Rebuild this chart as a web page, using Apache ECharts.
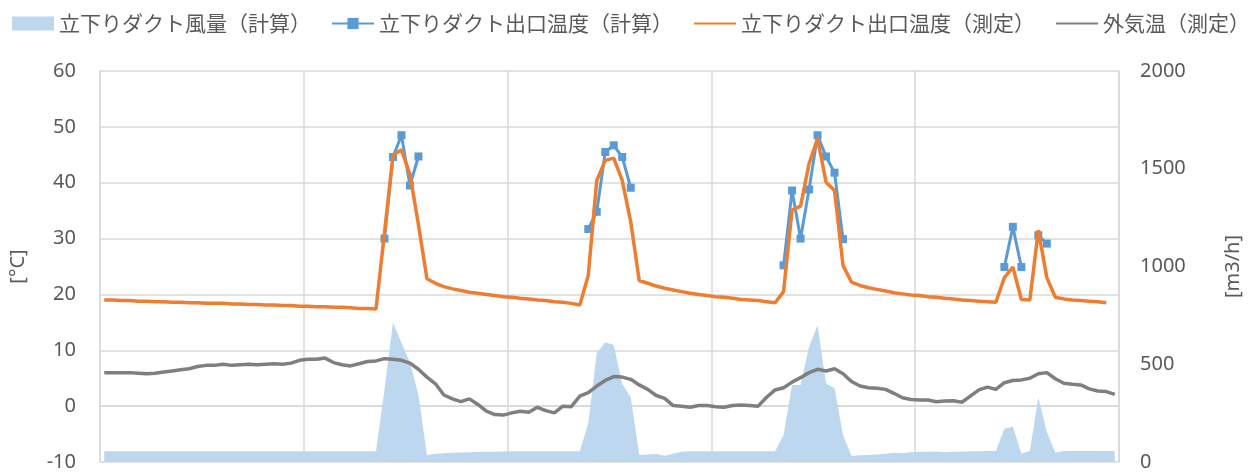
<!DOCTYPE html>
<html><head><meta charset="utf-8">
<script src="https://cdn.jsdelivr.net/npm/echarts@6/dist/echarts.min.js"></script>
<style>html,body{margin:0;padding:0;background:#fff}#c{width:1257px;height:475px}</style>
</head><body><div id="c"></div>
<script>
// hourly samples, 5 days x 24
const hours = [];
for (let d = 1; d <= 5; d++) for (let h = 0; h < 24; h++) hours.push('D' + d + ' ' + h + ':00');

const seriesNames = ['立下りダクト風量（計算）','立下りダクト出口温度（計算）','立下りダクト出口温度（測定）','外気温（測定）'];

// 立下りダクト風量（計算） [m3/h]
const airflowDay1 = [55,55,55,55,55,55,55,55,55,55,55,55,55,55,55,55,55,55,55,55,55,55,55,55];
const airflowDay2 = [55,55,55,55,55,55,55,55,55,368,712,610,510,343,36,42,45,47,48,50,51,52,53,54];
const airflowDay3 = [55,55,55,55,55,55,55,55,55,198,556,612,598,399,331,36,38,41,32,42,53,55,55,55];
const airflowDay4 = [55,55,55,55,55,55,55,55,138,394,394,590,700,402,377,138,31,34,36,39,42,47,45,50];
const airflowDay5 = [52,53,54,50,52,54,55,55,56,56,170,180,44,56,330,155,48,56,56,56,56,56,56,56];

// 立下りダクト出口温度（計算） [°C]
const calcDay1 = [null,null,null,null,null,null,null,null,null,null,null,null,null,null,null,null,null,null,null,null,null,null,null,null];
const calcDay2 = [null,null,null,null,null,null,null,null,null,30.0,44.6,48.5,39.5,44.7,null,null,null,null,null,null,null,null,null,null];
const calcDay3 = [null,null,null,null,null,null,null,null,null,31.7,34.8,45.5,46.7,44.6,39.1,null,null,null,null,null,null,null,null,null];
const calcDay4 = [null,null,null,null,null,null,null,null,25.2,38.6,30.0,38.8,48.5,44.7,41.8,29.9,null,null,null,null,null,null,null,null];
const calcDay5 = [null,null,null,null,null,null,null,null,null,null,24.9,32.1,24.9,null,30.6,29.1,null,null,null,null,null,null,null,null];

// 立下りダクト出口温度（測定） [°C]
const measDay1 = [19.0,19.0,18.9,18.9,18.8,18.8,18.7,18.7,18.6,18.6,18.5,18.5,18.4,18.4,18.4,18.3,18.3,18.2,18.2,18.1,18.1,18.0,18.0,17.9];
const measDay2 = [17.9,17.8,17.8,17.7,17.7,17.6,17.5,17.5,17.4,31.0,44.9,45.9,41.5,32.5,22.8,22.0,21.4,21.0,20.7,20.4,20.2,20.0,19.8,19.6];
const measDay3 = [19.5,19.3,19.2,19.0,18.9,18.7,18.6,18.4,18.1,23.4,40.4,44.0,44.4,40.4,33.0,22.5,22.0,21.5,21.1,20.8,20.5,20.2,20.0,19.8];
const measDay4 = [19.6,19.5,19.3,19.1,19.0,18.9,18.7,18.5,20.5,35.1,35.8,43.4,47.9,40.1,38.6,25.2,22.2,21.6,21.2,20.9,20.6,20.3,20.1,19.9];
const measDay5 = [19.8,19.6,19.5,19.3,19.2,19.0,18.9,18.8,18.7,18.6,23.0,24.9,19.1,19.0,31.5,23.0,19.5,19.2,19.0,18.9,18.8,18.7,18.5,null];

// 外気温（測定） [°C]
const outDay1 = [6.0,6.0,6.0,6.0,5.9,5.8,5.9,6.1,6.3,6.5,6.7,7.1,7.3,7.3,7.5,7.3,7.4,7.5,7.4,7.5,7.6,7.5,7.7,8.2];
const outDay2 = [8.4,8.4,8.6,7.8,7.4,7.2,7.6,8.0,8.1,8.5,8.4,8.2,7.7,6.6,5.2,4.0,2.0,1.3,0.8,1.3,0.3,-0.9,-1.5,-1.6];
const outDay3 = [-1.2,-0.9,-1.1,-0.2,-0.8,-1.2,0.0,-0.1,1.8,2.4,3.6,4.6,5.3,5.2,4.8,3.8,3.0,1.9,1.4,0.1,0.0,-0.2,0.1,0.1];
const outDay4 = [-0.1,-0.2,0.1,0.2,0.1,0.0,1.6,2.9,3.3,4.3,5.1,6.0,6.6,6.3,6.7,5.8,4.4,3.6,3.3,3.2,3.0,2.3,1.5,1.2];
const outDay5 = [1.1,1.1,0.8,0.9,0.95,0.7,1.8,2.9,3.4,3.0,4.2,4.6,4.7,5.0,5.8,6.0,4.9,4.1,3.9,3.8,3.1,2.7,2.6,2.1];

const tempTicks = {min:-10, max:60, interval:10};
const flowTicks = {min:0, max:2000, interval:500};

const airflow = [].concat(airflowDay1, airflowDay2, airflowDay3, airflowDay4, airflowDay5);
const calc = [].concat(calcDay1, calcDay2, calcDay3, calcDay4, calcDay5);
const meas = [].concat(measDay1, measDay2, measDay3, measDay4, measDay5);
const outside = [].concat(outDay1, outDay2, outDay3, outDay4, outDay5);

const txt = '#595959';
const gridC = '#d9d9d9';
const chart = echarts.init(document.getElementById('c'), null, {renderer:'canvas'});
chart.setOption({
  animation: false,
  backgroundColor: '#fff',
  textStyle: {fontFamily: '"Noto Sans CJK JP", "Noto Sans", sans-serif'},
  legend: {
    left: 12, top: 13, width: 1245, padding: 0, itemWidth: 42, itemHeight: 14, itemGap: 20,
    textStyle: {fontSize: 21, color: txt, fontFamily: '"Noto Sans CJK JP", sans-serif'},
    data: [
      {name: seriesNames[0], icon: 'rect'},
      {name: seriesNames[1]},
      {name: seriesNames[2], itemStyle: {opacity: 0}},
      {name: seriesNames[3], itemStyle: {opacity: 0}}
    ]
  },
  grid: {left: 100, right: 138, top: 71, bottom: 13},
  xAxis: {
    type: 'category', data: hours, boundaryGap: true,
    axisLine: {show: true, lineStyle: {color: gridC, width: 1.5}},
    axisTick: {show: false}, axisLabel: {show: false},
    splitLine: {show: true, interval: function(i){ return i % 24 === 0; }, lineStyle: {color: gridC, width: 1.5}}
  },
  yAxis: [
    {type: 'value', min: tempTicks.min, max: tempTicks.max, interval: tempTicks.interval,
     name: '[°C]', nameLocation: 'middle', nameRotate: 90, nameGap: 72,
     nameTextStyle: {fontSize: 20, color: txt, fontFamily: '"Noto Sans", sans-serif'},
     axisLine: {show: true, lineStyle: {color: gridC, width: 1.5}}, axisTick: {show: false},
     axisLabel: {fontSize: 20, color: txt, margin: 24, fontFamily: '"Noto Sans", sans-serif'},
     splitLine: {lineStyle: {color: gridC, width: 1.5}}},
    {type: 'value', min: flowTicks.min, max: flowTicks.max, interval: flowTicks.interval,
     name: '[m3/h]', nameLocation: 'middle', nameRotate: 90, nameGap: 104,
     nameTextStyle: {fontSize: 20, color: txt, fontFamily: '"Noto Sans", sans-serif'},
     axisLine: {show: true, lineStyle: {color: gridC, width: 1.5}}, axisTick: {show: false},
     axisLabel: {fontSize: 20, color: txt, margin: 21, fontFamily: '"Noto Sans", sans-serif',
                 formatter: function(v){ return String(v); }},
     splitLine: {show: false}}
  ],
  series: [
    {name: seriesNames[0], type: 'line', yAxisIndex: 1, data: airflow, symbol: 'none',
     itemStyle: {color: '#BDD7EE'}, lineStyle: {width: 0, color: '#BDD7EE'},
     areaStyle: {color: '#BDD7EE', opacity: 1}, z: 1},
    {name: seriesNames[1], type: 'line', yAxisIndex: 0, data: calc, symbol: 'rect', symbolSize: 8,
     showSymbol: true, showAllSymbol: true, connectNulls: false,
     itemStyle: {color: '#5B9BD5'}, lineStyle: {width: 3, color: '#5B9BD5'}, z: 3},
    {name: seriesNames[2], type: 'line', yAxisIndex: 0, data: meas, symbol: 'none',
     itemStyle: {color: '#ED7D31'}, lineStyle: {width: 3.5, color: '#ED7D31'}, z: 4},
    {name: seriesNames[3], type: 'line', yAxisIndex: 0, data: outside, symbol: 'none',
     itemStyle: {color: '#7F7F7F'}, lineStyle: {width: 3.5, color: '#7F7F7F'}, z: 2}
  ]
});
</script></body></html>
